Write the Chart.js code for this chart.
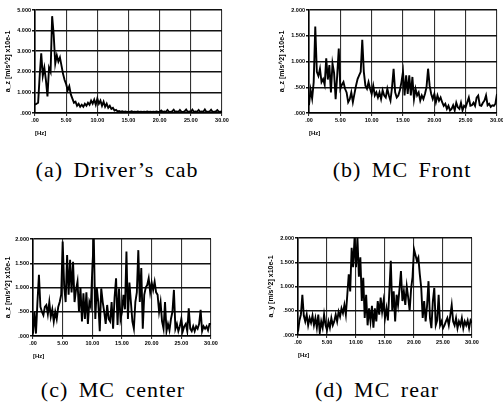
<!DOCTYPE html>
<html>
<head>
<meta charset="utf-8">
<script src="https://cdn.jsdelivr.net/npm/chart.js@4/dist/chart.umd.min.js"></script>
<style>
  html, body { margin: 0; padding: 0; background: #fff; overflow: hidden; width: 503px; height: 405px; }
  .box { position: absolute; }
  .cap { position: absolute; font-family: "Liberation Serif", "DejaVu Serif", serif; font-size: 22px; color: #000;
         white-space: nowrap; transform: translate(-50%, -50%); letter-spacing: 1px; word-spacing: 4px; }
</style>
</head>
<body>
<div class="box" id="wa"><canvas id="chA"></canvas></div>
<div class="box" id="wb"><canvas id="chB"></canvas></div>
<div class="box" id="wc"><canvas id="chC"></canvas></div>
<div class="box" id="wd"><canvas id="chD"></canvas></div>
<div class="cap" style="left:117px; top:170px;">(a) Driver’s cab</div>
<div class="cap" style="left:402px; top:170px;">(b) MC Front</div>
<div class="cap" style="left:113px; top:390px;">(c) MC center</div>
<div class="cap" style="left:377px; top:390px;">(d) MC rear</div>
<script>
// spectrum sampled every 0.25 Hz from 0 to 30 Hz
const FREQ_STEP = 0.25;

const xTickLabels = ['.00', '5.00', '10.00', '15.00', '20.00', '25.00', '30.00'];
const yTicksCab = ['.000', '1.000', '2.000', '3.000', '4.000', '5.000'];
const yTicksMC = ['.000', '.500', '1.000', '1.500', '2.000'];

// (a) Driver's cab, a_z
const cabZ = [
  0.4, 0.45, 0.5, 1.8, 2.9, 1.8, 2.2, 1.6, 0.8, 2.2, 2.0, 4.7, 3.8, 2.4, 2.8, 2.5, 2.7, 2.3, 1.9, 1.6,
  1.4, 1.1, 1.3, 0.9, 0.7, 0.5, 0.55, 0.35, 0.45, 0.3, 0.4, 0.3, 0.45, 0.35, 0.5, 0.4, 0.6, 0.45, 0.65, 0.4,
  0.7, 0.45, 0.6, 0.35, 0.55, 0.3, 0.45, 0.25, 0.35, 0.2, 0.25, 0.12, 0.15, 0.08, 0.1, 0.06, 0.08, 0.05, 0.07, 0.05,
  0.06, 0.05, 0.08, 0.05, 0.06, 0.05, 0.07, 0.05, 0.06, 0.05, 0.06, 0.05, 0.07, 0.05, 0.06, 0.05, 0.06, 0.05, 0.07, 0.05,
  0.06, 0.12, 0.05, 0.07, 0.05, 0.15, 0.06, 0.05, 0.08, 0.16, 0.05, 0.07, 0.05, 0.15, 0.06, 0.05, 0.08, 0.17, 0.05, 0.07,
  0.06, 0.16, 0.05, 0.07, 0.06, 0.15, 0.05, 0.07, 0.06, 0.17, 0.05, 0.06, 0.07, 0.16, 0.05, 0.06, 0.07, 0.14, 0.05, 0.06,
  0.07
];

// (b) MC front, a_z
const frontZ = [
  0.15, 0.45, 0.28, 0.6, 1.68, 0.8, 0.72, 0.86, 0.6, 0.66, 0.55, 1.06, 0.65, 0.93, 0.4, 0.96, 0.78, 0.27, 0.73, 1.25,
  0.47, 0.55, 0.6, 0.47, 0.4, 0.21, 0.27, 0.4, 0.21, 0.37, 0.53, 0.66, 0.73, 0.8, 1.42, 0.8, 0.53, 0.47, 0.6, 0.47,
  0.37, 0.53, 0.34, 0.4, 0.3, 0.4, 0.27, 0.44, 0.34, 0.3, 0.47, 0.34, 0.24, 0.5, 0.86, 0.4, 0.3, 0.34, 0.44, 0.6,
  0.8, 0.34, 0.73, 0.37, 0.73, 0.34, 0.7, 0.27, 0.47, 0.34, 0.4, 0.24, 0.34, 0.27, 0.37, 0.5, 0.86, 0.53, 0.37, 0.27,
  0.37, 0.21, 0.34, 0.24, 0.3, 0.21, 0.14, 0.18, 0.08, 0.14, 0.05, 0.08, 0.15, 0.05, 0.2, 0.11, 0.08, 0.2, 0.05, 0.14,
  0.11, 0.21, 0.3, 0.14, 0.15, 0.2, 0.14, 0.3, 0.34, 0.15, 0.14, 0.2, 0.24, 0.34, 0.15, 0.18, 0.12, 0.15, 0.14, 0.18,
  0.37
];

// (c) MC center, a_z
const centerZ = [
  0.05, 0.5, 0.05, 0.7, 1.26, 0.6, 0.5, 0.43, 0.6, 0.64, 0.45, 0.7, 0.4, 0.55, 0.3, 0.5, 0.35, 0.6, 0.7, 0.85,
  1.95, 1.05, 0.7, 1.67, 0.85, 1.57, 0.9, 1.53, 0.7, 0.95, 1.12, 0.5, 1.0, 0.3, 0.88, 0.35, 0.9, 0.25, 0.7, 0.6,
  1.4, 2.0, 0.35, 1.0, 0.7, 0.1, 0.98, 0.7, 0.5, 0.25, 0.64, 0.35, 0.3, 0.7, 0.15, 0.8, 1.19, 0.23, 0.98, 0.35,
  0.5, 0.85, 0.55, 1.74, 0.35, 1.1, 0.7, 0.3, 0.15, 0.7, 0.9, 1.77, 0.7, 1.4, 0.15, 0.85, 1.0, 1.05, 1.19, 0.9,
  1.1, 0.95, 1.12, 0.9, 0.85, 0.5, 0.7, 0.3, 0.15, 0.7, 0.1, 0.25, 0.12, 0.35, 0.5, 0.95, 0.15, 0.25, 0.1, 0.2,
  0.35, 0.1, 0.2, 0.25, 0.1, 0.57, 0.15, 0.1, 0.2, 0.1, 0.2, 0.15, 0.25, 0.54, 0.1, 0.2, 0.15, 0.2, 0.12, 0.25,
  0.25
];

// (d) MC rear, a_y
const rearY = [
  0.07, 0.3, 0.42, 0.83, 0.4, 0.28, 0.42, 0.2, 0.35, 0.25, 0.4, 0.2, 0.35, 0.15, 0.42, 0.05, 0.28, 0.15, 0.42, 0.2,
  0.1, 0.28, 0.15, 0.35, 0.2, 0.28, 0.42, 0.28, 0.48, 0.38, 0.55, 0.45, 0.62, 0.42, 0.83, 1.25, 0.9, 1.8, 1.4, 2.0,
  1.4, 2.0, 1.2, 1.6, 0.7, 1.18, 0.35, 0.83, 0.2, 0.55, 0.28, 0.6, 0.15, 0.55, 0.28, 0.7, 0.42, 0.77, 0.48, 0.7,
  0.35, 0.55, 0.3, 0.9, 1.53, 0.5, 0.9, 0.28, 0.83, 0.62, 0.95, 1.32, 0.7, 0.9, 0.62, 1.0, 0.77, 0.5, 0.95, 1.2,
  1.77, 1.65, 1.53, 1.6, 1.25, 0.97, 0.35, 0.7, 0.28, 0.6, 1.11, 0.35, 0.14, 0.7, 0.97, 0.2, 0.3, 0.83, 0.2, 0.28,
  0.14, 0.2, 0.28, 0.35, 0.2, 0.4, 0.62, 0.28, 0.2, 0.35, 0.14, 0.28, 0.2, 0.35, 0.14, 0.28, 0.2, 0.3, 0.14, 0.3,
  0.25
];

const tickFont = { family: 'Liberation Sans', size: 5.5, weight: 'bold' };

function makeChart(id, wrapId, pos, values, yMax, yStep, yLabels, yTitle, yWidth) {
  const wrap = document.getElementById(wrapId);
  wrap.style.left = pos.left + 'px';
  wrap.style.top = pos.top + 'px';
  const canvas = document.getElementById(id);
  canvas.width = pos.width;
  canvas.height = pos.height;

  new Chart(canvas, {
    type: 'line',
    data: {
      datasets: [{
        data: values.map((v, i) => ({ x: i * FREQ_STEP, y: v })),
        borderColor: '#000',
        borderWidth: 1.9,
        pointRadius: 0,
        tension: 0,
        fill: false
      }]
    },
    options: {
      responsive: false,
      animation: false,
      layout: { padding: { top: 6, right: 10, left: 0, bottom: 0 } },
      plugins: { legend: { display: false }, tooltip: { enabled: false } },
      scales: {
        x: {
          type: 'linear', min: 0, max: 30,
          afterFit: s => { s.height = 26; },
          ticks: { stepSize: 5, font: tickFont, color: '#000', padding: 1, maxRotation: 0,
                   callback: (v, i) => xTickLabels[i] },
          grid: { color: '#333', lineWidth: 1.1, tickLength: 3 },
          border: { color: '#000', width: 1.6 },
          title: { display: true, text: '[Hz]', align: 'start', color: '#000',
                   font: { family: 'Liberation Sans', size: 6, weight: 'bold' }, padding: { top: 0, bottom: 2 } }
        },
        y: {
          min: 0, max: yMax,
          afterFit: s => { s.width = yWidth; },
          ticks: { stepSize: yStep, font: tickFont, color: '#000', padding: 1,
                   callback: (v, i) => yLabels[i] },
          grid: { color: '#111', lineWidth: 1.5, tickLength: 3 },
          border: { color: '#000', width: 1.6 },
          title: { display: true, text: yTitle, color: '#000',
                   font: { family: 'Liberation Sans', size: 7, weight: 'bold' }, padding: { top: 4, bottom: 0 } }
        }
      }
    }
  });
}

makeChart('chA', 'wa', { left: 0, top: 4, width: 232, height: 135 }, cabZ, 5, 1, yTicksCab, 'a_z [m/s^2] x10e-1', 35);
makeChart('chB', 'wb', { left: 274, top: 4, width: 233, height: 135 }, frontZ, 2, 0.5, yTicksMC, 'a_z [m/s^2] x10e-1', 35);
makeChart('chC', 'wc', { left: 0, top: 233, width: 221, height: 129 }, centerZ, 2, 0.5, yTicksMC, 'a_z [m/s^2] x10e-1', 33);
makeChart('chD', 'wd', { left: 263, top: 232, width: 219, height: 129 }, rearY, 2, 0.5, yTicksMC, 'a_y [m/s^2] x10e-1', 35);
</script>
</body>
</html>
